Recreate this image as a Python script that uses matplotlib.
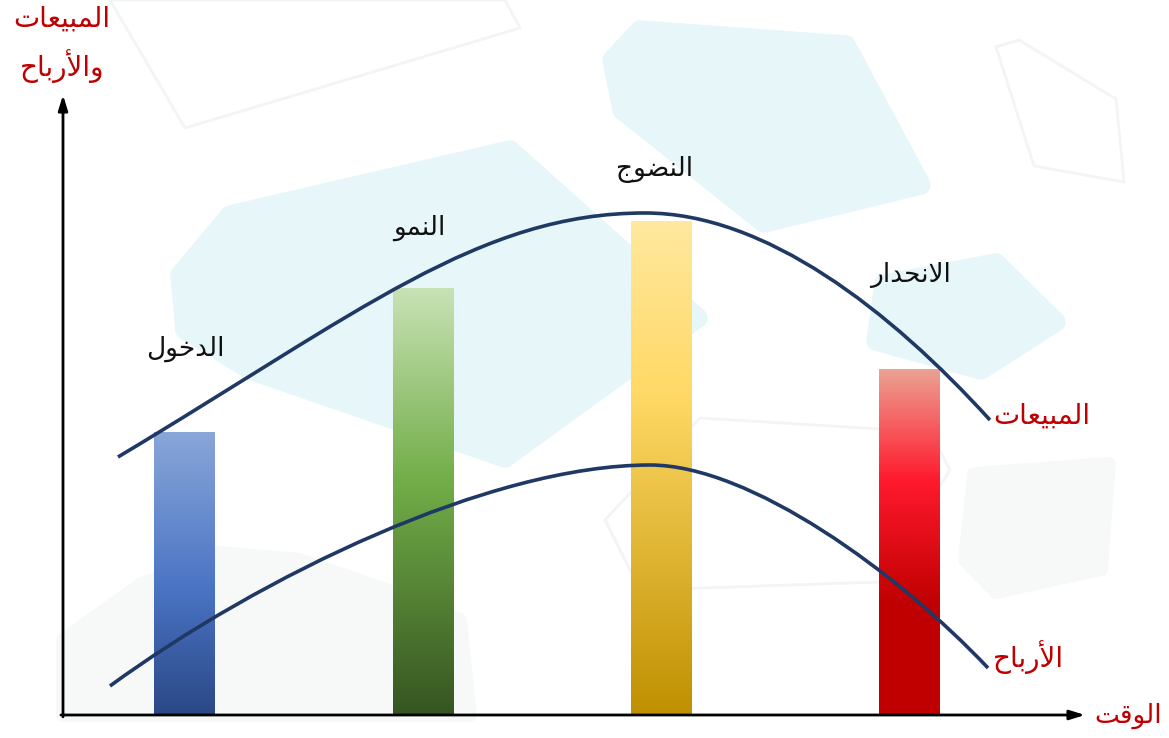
import matplotlib
matplotlib.use('Agg')
import numpy as np
import matplotlib.pyplot as plt
from matplotlib.path import Path
from matplotlib.patches import PathPatch, Polygon
from matplotlib.colors import LinearSegmentedColormap

#-------------------------------------------------------------------------------
# matplotlib does no Arabic shaping, so pick the presentation forms by hand
FORMS = {
    'ا': ('\uFE8D', '\uFE8E', None, None),
    'أ': ('\uFE83', '\uFE84', None, None),
    'ب': ('\uFE8F', '\uFE90', '\uFE91', '\uFE92'),
    'ت': ('\uFE95', '\uFE96', '\uFE97', '\uFE98'),
    'ج': ('\uFE9D', '\uFE9E', '\uFE9F', '\uFEA0'),
    'ح': ('\uFEA1', '\uFEA2', '\uFEA3', '\uFEA4'),
    'خ': ('\uFEA5', '\uFEA6', '\uFEA7', '\uFEA8'),
    'د': ('\uFEA9', '\uFEAA', None, None),
    'ر': ('\uFEAD', '\uFEAE', None, None),
    'ض': ('\uFEBD', '\uFEBE', '\uFEBF', '\uFEC0'),
    'ع': ('\uFEC9', '\uFECA', '\uFECB', '\uFECC'),
    'ق': ('\uFED5', '\uFED6', '\uFED7', '\uFED8'),
    'ل': ('\uFEDD', '\uFEDE', '\uFEDF', '\uFEE0'),
    'م': ('\uFEE1', '\uFEE2', '\uFEE3', '\uFEE4'),
    'ن': ('\uFEE5', '\uFEE6', '\uFEE7', '\uFEE8'),
    'و': ('\uFEED', '\uFEEE', None, None),
    'ي': ('\uFEF1', '\uFEF2', '\uFEF3', '\uFEF4'),
}
LAM_ALEF = {'ا': ('\uFEFB', '\uFEFC'), 'أ': ('\uFEF7', '\uFEF8')}


def ar(text):
    out = []
    prev = False
    i = 0
    while i < len(text):
        c = text[i]
        if c not in FORMS:
            out.append(c); prev = False; i += 1
            continue
        if c == 'ل' and i + 1 < len(text) and text[i + 1] in LAM_ALEF:
            iso, fin = LAM_ALEF[text[i + 1]]
            out.append(fin if prev else iso); prev = False; i += 2
            continue
        f = FORMS[c]
        dual = f[2] is not None
        nxt = i + 1 < len(text) and text[i + 1] in FORMS
        if prev and nxt and dual:
            g = f[3]
        elif prev:
            g = f[1]
        elif nxt and dual:
            g = f[2]
        else:
            g = f[0]
        out.append(g); prev = dual; i += 1
    return ''.join(reversed(out))
#-------------------------------------------------------------------------------

# data (time 0..100, value 0..100)
stages     = ['الدخول', 'النمو', 'النضوج', 'الانحدار']
stage_x    = [11.9, 35.2, 58.5, 82.8]
stage_h    = [45.6, 68.9, 79.6, 55.8]
bar_colors = [['#8aa6d9', '#4a74c4', '#2b4886'],
              ['#c9e2b6', '#72ae48', '#365521'],
              ['#ffe89e', '#ffd966', '#bf9000'],
              ['#eba293', '#ff1a2e', '#c00000', '#c00000']]
bar_stops  = [[0, 0.55, 1], [0, 0.45, 1], [0, 0.35, 1], [0, 0.32, 0.68, 1]]

# curves as cubic bezier control points
sales_x  = [5.38, 29.06, 40.80, 56.95, 68.69, 80.92, 90.70]
sales_y  = [41.61, 65.00, 80.97, 80.97, 80.97, 65.32, 47.58]
profit_x = [4.60, 19.28, 41.78, 57.44, 67.22, 81.70, 90.51]
profit_y = [4.68, 22.34, 40.32, 40.32, 40.32, 22.97, 7.58]

label_sales  = 'المبيعات'
label_profit = 'الأرباح'
xlabel       = 'الوقت'
ylabel       = ['المبيعات', 'والأرباح']

plt.rcParams['font.family'] = ['DejaVu Sans']

fig = plt.figure(figsize=(11.69, 7.38), dpi=100)

# faint decorative background shapes (pixel space)
bg = fig.add_axes([0, 0, 1, 1], zorder=0)
bg.set_xlim(0, 1169); bg.set_ylim(738, 0); bg.axis('off')
cyan = '#e6f6f9'
for pts in [[(180, 275), (230, 215), (510, 150), (698, 318), (505, 458), (250, 370), (185, 330)],
            [(612, 60), (640, 30), (846, 45), (921, 185), (764, 223), (622, 110)],
            [(884, 284), (996, 263), (1056, 322), (981, 370), (876, 341)]]:
    bg.add_patch(Polygon(pts, closed=True, fc=cyan, ec=cyan, lw=14, joinstyle='round'))
for pts in [[(974, 474), (1109, 464), (1101, 569), (996, 592), (965, 560)],
            [(63, 640), (140, 585), (220, 553), (300, 560), (400, 595), (460, 620), (470, 715), (63, 715)]]:
    bg.add_patch(Polygon(pts, closed=True, fc='#f7f9f8', ec='#f7f9f8', lw=10, joinstyle='round'))
for pts in [[(110, 0), (185, 128), (520, 28), (505, 0)],
            [(996, 47), (1019, 40), (1116, 99), (1124, 182), (1034, 166)],
            [(700, 418), (930, 432), (950, 470), (880, 582), (640, 590), (605, 520)]]:
    bg.add_patch(Polygon(pts, closed=True, fc='none', ec='#f2f5f5', lw=2, joinstyle='round'))

ax = fig.add_axes([63 / 1169, 23 / 738, 1022 / 1169, 620 / 738], zorder=1)
ax.patch.set_alpha(0)
ax.set_xlim(0, 100); ax.set_ylim(0, 100)
ax.axis('off')

# gradient bars
bars = ax.bar(stage_x, stage_h, width=5.9, color='none', edgecolor='none')
for rect, cols, stops in zip(bars, bar_colors, bar_stops):
    cmap = LinearSegmentedColormap.from_list('g', list(zip(stops, cols)))
    x0, y0 = rect.get_x(), rect.get_y()
    grad = np.linspace(0, 1, 256).reshape(-1, 1)
    im = ax.imshow(grad, cmap=cmap, aspect='auto', origin='upper',
                   extent=(x0, x0 + rect.get_width(), y0, y0 + rect.get_height()), zorder=2)
    im.set_clip_path(rect)
ax.set_xlim(0, 100); ax.set_ylim(0, 100)

# curves
codes = [Path.MOVETO] + [Path.CURVE4] * 6
for xs, ys in [(sales_x, sales_y), (profit_x, profit_y)]:
    ax.add_patch(PathPatch(Path(list(zip(xs, ys)), codes), fc='none', ec='#1f3864',
                           lw=2.6, capstyle='butt', zorder=3))

# axes arrows
arrow = dict(arrowstyle='-|>,head_length=0.9,head_width=0.28', color='black', lw=2,
             shrinkA=0, shrinkB=0)
ax.annotate('', xy=(0, 100), xytext=(0, -0.3), arrowprops=arrow, annotation_clip=False)
ax.annotate('', xy=(100, 0), xytext=(-0.2, 0), arrowprops=arrow, annotation_clip=False)

# texts
stage_label_y = [59.0, 78.6, 88.0, 71.0]
stage_label_dx = [0.1, -0.3, -0.6, 0.1]
for name, x, y, dx in zip(stages, stage_x, stage_label_y, stage_label_dx):
    ax.text(x + dx, y, ar(name), ha='center', va='center', fontsize=19, color='#111111')

red = '#c00000'
ax.text(91.0, 48.3, ar(label_sales), ha='left', va='center', fontsize=20, color=red)
ax.text(91.0, 9.4, ar(label_profit), ha='left', va='center', fontsize=20, color=red)
ax.text(100.9, -0.2, ar(xlabel), ha='left', va='center', fontsize=19, color=red, clip_on=False)
ax.text(-0.1, 112.3, ar(ylabel[0]), ha='center', va='center', fontsize=20, color=red, clip_on=False)
ax.text(-0.1, 104.6, ar(ylabel[1]), ha='center', va='center', fontsize=20, color=red, clip_on=False)

fig.savefig('out.png', dpi=100)
